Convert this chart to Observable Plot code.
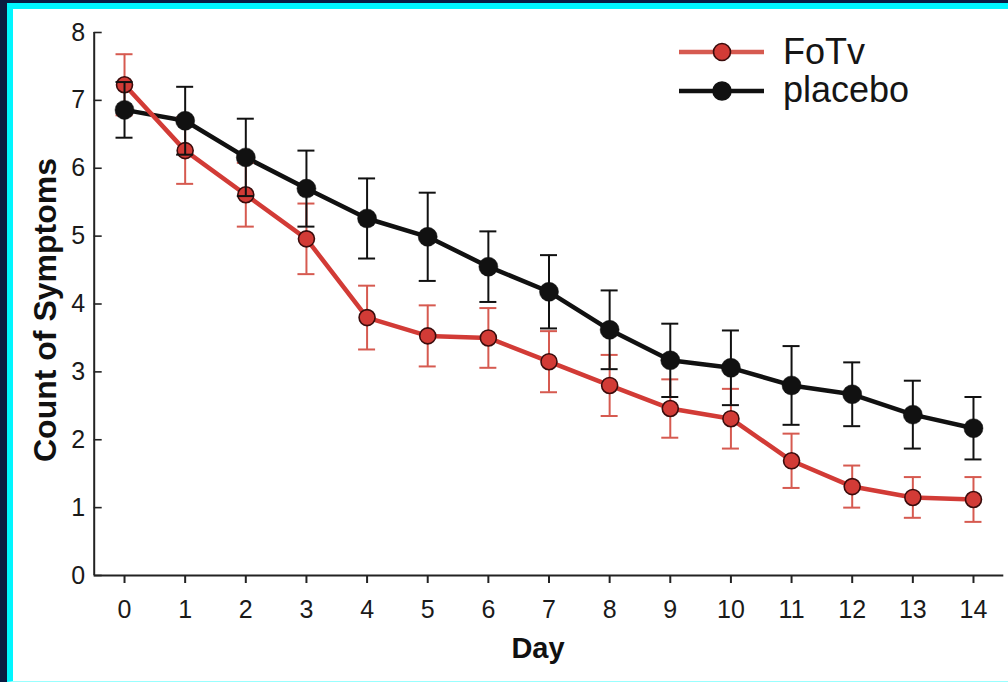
<!DOCTYPE html>
<html>
<head>
<meta charset="utf-8">
<script src="https://cdn.jsdelivr.net/npm/d3@7"></script>
<script src="https://cdn.jsdelivr.net/npm/@observablehq/plot@0.6"></script>
<style>
  html, body { margin: 0; padding: 0; }
  body { width: 1008px; height: 682px; overflow: hidden; background: #0a1c42; position: relative; font-family: "Liberation Sans", Arial, sans-serif; }
  #frame { position: absolute; left: 7px; top: 3px; width: 995px; height: 672px; background: #fff;
           border-left: 6px solid #00f6ff; border-top: 6px solid #00f6ff; border-bottom: 1px solid #9ff; }
  #chart { position: absolute; left: 0; top: 0; }
  #legend { position: absolute; left: 675px; top: 25px; }
</style>
</head>
<body>
<div id="frame"><div id="chart"></div></div>
<svg id="legend" width="330" height="90"></svg>
<script>
// ---- data ----
const days = [0, 1, 2, 3, 4, 5, 6, 7, 8, 9, 10, 11, 12, 13, 14];
const fotvMean = [7.23, 6.26, 5.61, 4.96, 3.80, 3.53, 3.50, 3.15, 2.80, 2.46, 2.31, 1.69, 1.31, 1.15, 1.12];
const fotvErr  = [0.45, 0.49, 0.47, 0.52, 0.47, 0.45, 0.44, 0.45, 0.45, 0.43, 0.44, 0.40, 0.31, 0.30, 0.33];
const placeboMean = [6.86, 6.70, 6.16, 5.70, 5.26, 4.99, 4.55, 4.18, 3.62, 3.17, 3.06, 2.80, 2.67, 2.37, 2.17];
const placeboErr  = [0.41, 0.50, 0.57, 0.56, 0.59, 0.65, 0.52, 0.54, 0.58, 0.54, 0.55, 0.58, 0.47, 0.50, 0.46];
const yTicks = [0, 1, 2, 3, 4, 5, 6, 7, 8];
const seriesNames = ["FoTv", "placebo"];
const xDomain = [-0.5, 14.5];
const yDomain = [0, 8];

const RED = "#d23b36", RED_ERR = "#d65a50", RED_EDGE = "#3a0c0c", BLACK = "#111";

const fotv = days.map((d, i) => ({day: d, mean: fotvMean[i], err: fotvErr[i]}));
const placebo = days.map((d, i) => ({day: d, mean: placeboMean[i], err: placeboErr[i]}));

const W = 995, H = 671, mL = 80.7, mR = 4.7;
const pxPerDay = (W - mL - mR) / (xDomain[1] - xDomain[0]);
const cap = 8.5 / pxPerDay;       // half cap width in days
const yTickLen = 8 / pxPerDay;    // inward y tick length in days

function errMarks(data, color) {
  return [
    Plot.ruleX(data, {x: "day", y1: d => d.mean - d.err, y2: d => d.mean + d.err, stroke: color, strokeWidth: 2}),
    Plot.ruleY(data, {y: d => d.mean + d.err, x1: d => d.day - cap, x2: d => d.day + cap, stroke: color, strokeWidth: 2}),
    Plot.ruleY(data, {y: d => d.mean - d.err, x1: d => d.day - cap, x2: d => d.day + cap, stroke: color, strokeWidth: 2})
  ];
}

const chart = Plot.plot({
  width: W, height: H,
  marginLeft: mL, marginRight: mR, marginTop: 23, marginBottom: 105,
  x: {domain: xDomain},
  y: {domain: yDomain},
  style: {fontFamily: "'Liberation Sans', Arial, sans-serif", fontSize: "25px", color: "#1a1a1a", background: "transparent", overflow: "visible"},
  marks: [
    Plot.axisX({ticks: days, tickSize: 8, tickPadding: 17, label: null, fontSize: 25, strokeWidth: 2, stroke: "#222"}),
    Plot.axisY({ticks: yTicks, tickSize: 0, tickPadding: 9, label: null, fontSize: 25}),
    Plot.ruleY(yTicks, {y: d => d, x1: () => xDomain[0], x2: () => xDomain[0] + yTickLen, stroke: "#222", strokeWidth: 1.6}),
    Plot.ruleX([xDomain[0]], {y1: () => yDomain[0], y2: () => yDomain[1], stroke: "#222", strokeWidth: 2}),
    Plot.ruleY([yDomain[0]], {x1: () => xDomain[0], x2: () => xDomain[1], stroke: "#222", strokeWidth: 2}),
    Plot.line(placebo, {x: "day", y: "mean", stroke: BLACK, strokeWidth: 4.5}),
    Plot.line(fotv, {x: "day", y: "mean", stroke: RED, strokeWidth: 4.5}),
    ...errMarks(fotv, RED_ERR),
    Plot.dot(fotv, {x: "day", y: "mean", r: 8, fill: RED, stroke: RED_EDGE, strokeWidth: 1.6}),
    ...errMarks(placebo, BLACK),
    Plot.dot(placebo, {x: "day", y: "mean", r: 9.5, fill: BLACK, stroke: BLACK, strokeWidth: 0.5}),
    Plot.text(["Count of Symptoms"], {frameAnchor: "left", textAnchor: "middle", rotate: -90, dx: -48, dy: 6, fontSize: 32, fontWeight: "bold", fill: "#111"}),
    Plot.text(["Day"], {frameAnchor: "bottom", textAnchor: "middle", dx: -11, dy: 82, fontSize: 29, fontWeight: "bold", fill: "#111"})
  ]
});
document.getElementById("chart").appendChild(chart);

// ---- legend ----
const lg = d3.select("#legend");
const legendItems = [
  {name: seriesNames[0], line: RED_ERR, fill: RED, edge: RED_EDGE, r: 8.5, y: 27, base: 39},
  {name: seriesNames[1], line: BLACK, fill: BLACK, edge: BLACK, r: 9, y: 66, base: 77}
];
legendItems.forEach(it => {
  lg.append("line").attr("x1", 4).attr("x2", 89).attr("y1", it.y).attr("y2", it.y)
    .attr("stroke", it.line).attr("stroke-width", 4.5);
  lg.append("circle").attr("cx", 47).attr("cy", it.y).attr("r", it.r)
    .attr("fill", it.fill).attr("stroke", it.edge).attr("stroke-width", 1.6);
  lg.append("text").attr("x", 108).attr("y", it.base).text(it.name)
    .attr("font-size", 36).attr("fill", "#151515")
    .attr("font-family", "'Liberation Sans', Arial, sans-serif");
});
</script>
</body>
</html>
